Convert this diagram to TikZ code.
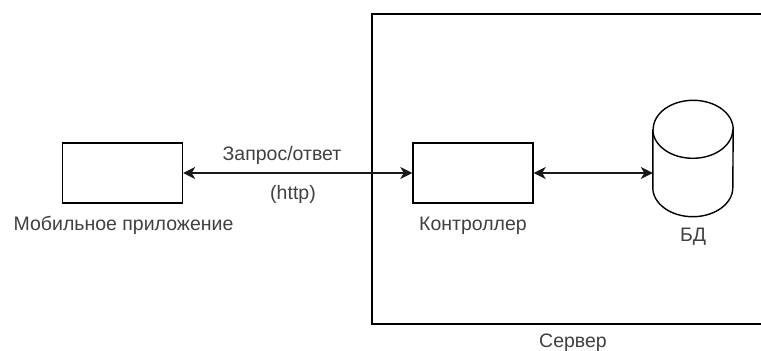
\documentclass[tikz,border=0pt]{standalone}
\usepackage{fontspec}
\setmainfont{Liberation Sans}
\usetikzlibrary{arrows.meta}
\tikzset{
  box/.style={draw=black, line width=1.4pt, minimum width=120pt, minimum height=60pt, inner sep=0pt},
  lbl/.style={text=black!75, font=\fontsize{19.5}{22}\selectfont, inner sep=0pt, anchor=base},
  tip/.style={Stealth[length=12pt,width=12pt,inset=3.5pt]},
  link/.style={draw=black!90, line width=1.4pt, {Stealth[length=12pt,width=12pt,inset=3.5pt]}-{Stealth[length=12pt,width=12pt,inset=3.5pt]}},
  shell/.style={draw=black, line width=1.6pt},
}
\begin{document}
\begin{tikzpicture}[x=1pt,y=-1pt]
  \useasboundingbox (0,0) rectangle (761,351);
  \fill[white] (0,0) rectangle (761,351);

  % server enclosure, its right side runs off the page
  \begin{scope}
    \clip (0,0) rectangle (761,351);
    \node[shell, minimum width=440pt, minimum height=310pt, inner sep=0pt, anchor=north west] (server) at (371,13) {};
  \end{scope}

  % client and controller
  \node[box] (mob) at (122.5,173) {};
  \node[box] (ctrl) at (473,173) {};

  % database cylinder (y axis points down, so angle 90 is the bottom of an ellipse)
  \node[minimum width=80pt, minimum height=116pt, inner sep=0pt] (db) at (693,158.5) {};
  \path
    (db.north west) ++(0,29) coordinate (dbtl)
    (db.south west) ++(0,-29) coordinate (dbbl)
    (db.north east) ++(0,29) coordinate (dbtr)
    (db.south east) ++(0,-29) coordinate (dbbr);
  \draw[black, line width=1.4pt, fill=white]
    (dbtl) -- (dbbl) arc[start angle=180, end angle=0, x radius=40, y radius=29]
    -- (dbtr) arc[start angle=0, end angle=-180, x radius=40, y radius=29];
  \draw[black, line width=1.4pt]
    (dbtl) arc[start angle=180, end angle=0, x radius=40, y radius=29];

  % connectors
  \draw[link] (mob.east) -- (ctrl.west);
  \draw[link] (ctrl.east) -- (ctrl.east -| db.west);

  % labels
  \node[lbl] (mobl) at (123.5,230) {Мобильное приложение};
  \node[lbl] (ctrll) at (473,230) {Контроллер};
  \node[lbl] (dbl) at (693,241) {БД};
  \node[lbl] (srvl) at (573,347) {Сервер};
  \node[lbl] (req) at (282,160) {Запрос/ответ};
  \node[lbl] (proto) at (293,199) {(http)};
\end{tikzpicture}
\end{document}
